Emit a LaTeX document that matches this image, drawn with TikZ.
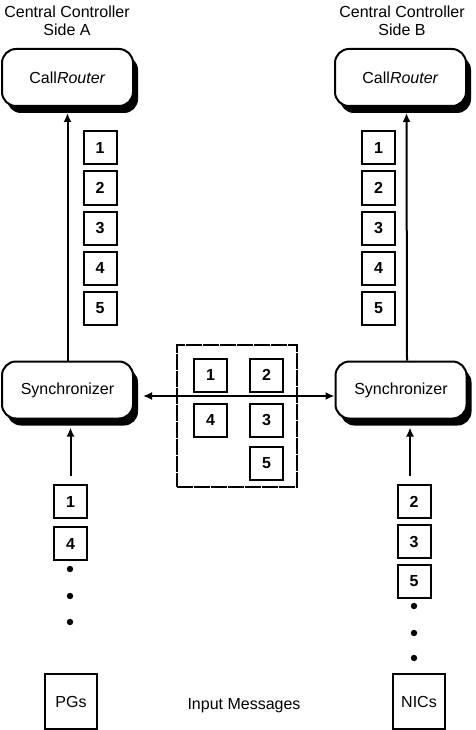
\documentclass[tikz,border=0pt]{standalone}
\usepackage{fontspec}
\setmainfont{Liberation Sans}
\usetikzlibrary{shapes,arrows.meta,positioning,shadows,calc}

\begin{document}
\begin{tikzpicture}[
    x=1pt, y=-1pt,
    node distance=5pt,
    every node/.style={font=\fontsize{16}{18}\selectfont},
    process/.style={rectangle, draw, fill=white, line width=2pt, rounded corners=14pt, minimum width=131pt, minimum height=57pt,
        drop shadow={shadow xshift=5pt, shadow yshift=-7pt, fill=black, opacity=1}},
    msgbox/.style={rectangle, draw, line width=2pt, minimum width=33pt, minimum height=33pt, inner sep=0pt, font=\fontsize{16}{18}\selectfont\bfseries},
    sourcebox/.style={rectangle, draw, line width=2pt, minimum width=52pt, minimum height=55pt},
    pool/.style={rectangle, draw, line width=2pt, dash pattern=on 16pt off 1pt, minimum width=120pt, minimum height=142pt},
    arrow/.style={->, >={Latex[length=9pt,width=8pt]}, line width=2pt}
]
\useasboundingbox (0,0) rectangle (475,730);

% --- Central controllers ---
\node[align=center] (titleA) at (67,21) {Central Controller\\Side A};
\node[align=center] (titleB) at (402,21) {Central Controller\\Side B};

\node[process] (routerA) at (67.5,77.5) {Call\textit{Router}};
\node[process] (routerB) at (400.5,77.5) {Call\textit{Router}};

% Synchronizers
\node[process] (syncA) at (67.5,390) {Synchronizer};
\node[process] (syncB) at (401,390) {Synchronizer};

% Ordered messages to the routers
\node[msgbox] (outA1) at (100,148) {1};
\node[msgbox, below=of outA1] (outA2) {2};
\node[msgbox, below=of outA2] (outA3) {3};
\node[msgbox, below=of outA3] (outA4) {4};
\node[msgbox, below=of outA4] (outA5) {5};

\node[msgbox] (outB1) at (378.5,148) {1};
\node[msgbox, below=of outB1] (outB2) {2};
\node[msgbox, below=of outB2] (outB3) {3};
\node[msgbox, below=of outB3] (outB4) {4};
\node[msgbox, below=of outB4] (outB5) {5};

% Shared message pool
\node[pool] (msgpool) at (237,416) {};
\node[msgbox] (pool1) at (210.5,375) {1};
\node[msgbox, right=21pt of pool1] (pool2) {2};
\node[msgbox, below=10pt of pool1] (pool4) {4};
\node[msgbox, below=10pt of pool2] (pool3) {3};
\node[msgbox, below=8pt of pool3] (pool5) {5};

% Input messages
\node[msgbox] (inA1) at (70.5,501.5) {1};
\node[msgbox, below=7pt of inA1] (inA4) {4};

\node[msgbox] (inB2) at (414,501.5) {2};
\node[msgbox, below=of inB2] (inB3) {3};
\node[msgbox, below=of inB3] (inB5) {5};

\foreach \y in {569,596,622}
    \fill (70,\y) circle (3.2pt);
\foreach \y in {606,633,658}
    \fill (414,\y) circle (3.2pt);

% Sources
\node[sourcebox] (pgs) at (71,701.5) {PGs};
\node[sourcebox] (nics) at (419,701.5) {NICs};
\node (inputs) at (244,706) {Input Messages};

% --- Arrows ---
\draw[arrow, shorten >=6pt] (syncA) -- (routerA);
\draw[arrow, shorten >=6pt] ([xshift=6pt]syncB.north) -- ([xshift=6pt]routerB.south);

\draw[arrow, shorten >=8pt] ([yshift=8pt]inA1.north) -- (inA1.north |- syncA.south);
\draw[arrow, shorten >=8pt] ([xshift=-4pt,yshift=8pt]inB2.north) -- ([xshift=-4pt]inB2.north |- syncB.south);

\draw[arrow, <->, shorten <=9pt] ([yshift=-6pt]syncA.east) -- ([yshift=-6pt]syncB.west);

\end{tikzpicture}
\end{document}
